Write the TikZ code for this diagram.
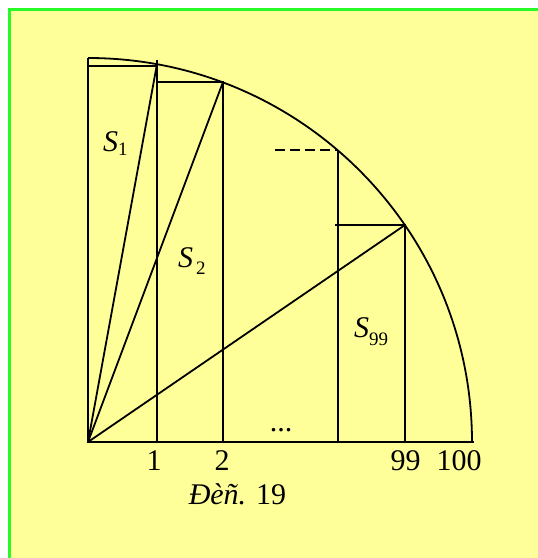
\documentclass[tikz,border=0pt]{standalone}
\usepackage{fontspec}
\setmainfont{Liberation Serif}
\definecolor{bgyellow}{RGB}{255,255,153}
\definecolor{framegreen}{RGB}{40,250,40}
\newcommand{\subsc}[2]{\raisebox{#1}{\fontsize{19}{20}\selectfont #2}}
\begin{document}
\begin{tikzpicture}[x=1pt,y=1pt,
  geo/.style={line width=1.8pt, line cap=butt, line join=miter},
  dashline/.style={geo, dash pattern=on 10pt off 5pt},
  lbl/.style={inner sep=0pt, font=\fontsize{30}{32}\selectfont, anchor=base west},
  tick/.style={inner sep=0pt, font=\fontsize{30}{32}\selectfont, anchor=base}]
\useasboundingbox (0,0) rectangle (538,558);
\fill[white] (0,0) rectangle (538,558);
\fill[bgyellow] (9.7,0) rectangle (538,548.3);
\draw[framegreen, line width=2.6pt] (9.7,-5) -- (9.7,548.3) -- (545,548.3);

% key points
\coordinate (O) at (88,116);
\coordinate (T) at (88,500);
\coordinate (E) at (472,116);
\coordinate (X) at (474,116);
\coordinate (P1) at (157,494);
\coordinate (P2) at (223,476);
\coordinate (P3) at (338,408);
\coordinate (P99) at (405,333);
\coordinate (F1) at (157,116);
\coordinate (F2) at (223,116);
\coordinate (F3) at (338,116);
\coordinate (F99) at (405,116);
\coordinate (H1) at (88,492);
\coordinate (H1e) at (157,492);
\coordinate (H2) at (157,476);
\coordinate (D) at (275,408);
\coordinate (H99) at (335,333);
\coordinate (V1) at (157,498);

% arc and axes
\draw[geo] (E) arc[start angle=0, end angle=90, radius=384];
\draw[geo] (T) -- (O) -- (X);

% strips
\draw[geo] (H1) -- (H1e);
\draw[geo] (V1) -- (F1);
\draw[geo] (H2) -- (P2) -- (F2);
\draw[dashline] (D) -- (P3);
\draw[geo] (P3) -- (F3);
\draw[geo] (H99) -- (P99) -- (F99);

% radial lines
\draw[geo] (O) -- (P1);
\draw[geo] (O) -- (P2);
\draw[geo] (O) -- (P99);

% labels
\node[lbl] (s1) at (103,406) {\textit{S}\subsc{-4pt}{1}};
\node[lbl] (s2) at (178,290) {\textit{S}\hspace{3pt}\subsc{-7pt}{2}};
\node[lbl] (s99) at (354,220) {\textit{S}\subsc{-8pt}{99}};
\node[tick] (dots) at (281,126.5) {...};
\node[tick] (t1) at (154,87.5) {1};
\node[tick] (t2) at (222,87.5) {2};
\node[tick] (t99) at (405.5,87.5) {99};
\node[tick] (t100) at (459,87.5) {100};
\node[tick] (cap) at (237.5,53) {\textit{Đèñ.} 19};
\end{tikzpicture}
\end{document}
